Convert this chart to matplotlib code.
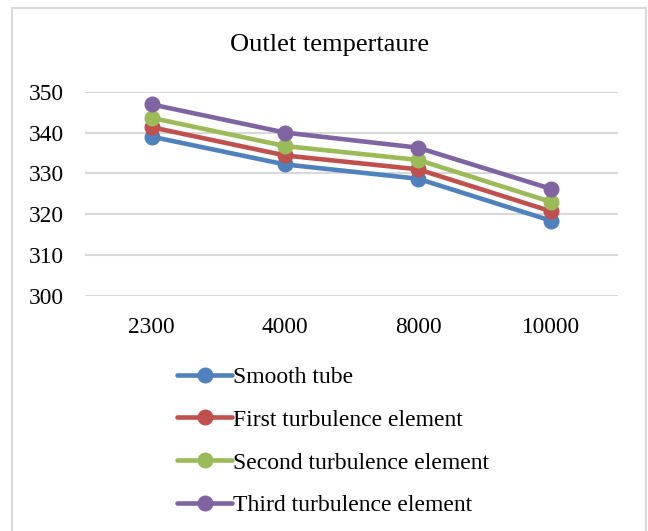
import matplotlib
matplotlib.use("Agg")
import matplotlib.pyplot as plt
from matplotlib.patches import Rectangle

categories = ["2300", "4000", "8000", "10000"]
series_names = ["Smooth tube", "First turbulence element",
                "Second turbulence element", "Third turbulence element"]
smooth = [339.0, 332.2, 328.7, 318.4]
first = [341.3, 334.4, 331.0, 320.7]
second = [343.6, 336.7, 333.3, 323.0]
third = [346.9, 340.0, 336.3, 326.2]
y_ticks = [300, 310, 320, 330, 340, 350]
colors = ["#4F81BD", "#C0504D", "#9BBB59", "#8064A2"]

plt.rcParams['font.family'] = ['Liberation Serif', 'DejaVu Serif']

fig = plt.figure(figsize=(6.48, 5.31), dpi=100)
W, H = 648, 531
ax = fig.add_axes([85 / W, 1 - 296 / H, (618 - 85) / W, (296 - 91.7) / H])

x = list(range(len(categories)))
for vals, name, c in zip([smooth, first, second, third], series_names, colors):
    ax.plot(x, vals, color=c, lw=3.3, marker='o', ms=10.5, label=name,
            solid_capstyle='round')

ax.set_xlim(-0.5, len(categories) - 0.5)
ax.set_ylim(300, 350)
ax.set_yticks(y_ticks)
ax.set_xticks(x)
ax.set_xticklabels(categories)
ax.grid(axis='y', color='#D9D9D9', lw=1.5)
ax.set_axisbelow(True)
for s in ax.spines.values():
    s.set_visible(False)
ax.tick_params(axis='both', length=0, labelsize=16.8, colors='black')
ax.tick_params(axis='y', pad=15)
ax.tick_params(axis='x', pad=15)

fig.text(0.508, 1 - 45 / H, "Outlet tempertaure", ha='center', va='center',
         fontsize=19)

leg = fig.legend(loc='upper left', bbox_to_anchor=(168 / W, 1 - 357 / H),
                 frameon=False, fontsize=17, handlelength=2.3,
                 handletextpad=0.05, labelspacing=0.9, borderaxespad=0)

fig.patches.append(Rectangle((11.5 / W, -0.01), (646 - 11.5) / W, 1 - 8 / H + 0.01,
                             transform=fig.transFigure, fill=False,
                             edgecolor='#D9D9D9', lw=1.5))

fig.savefig("out.png", dpi=100)
